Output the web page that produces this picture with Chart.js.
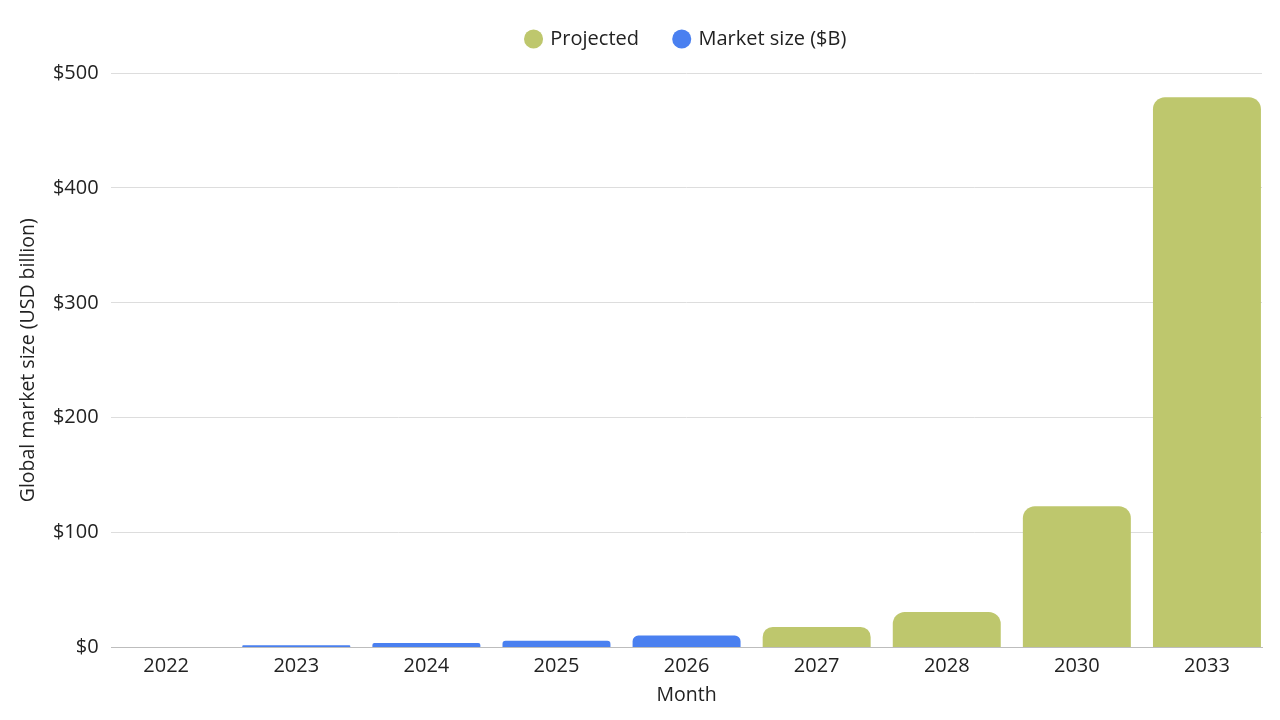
<!DOCTYPE html>
<html>
<head>
<meta charset="utf-8">
<script src="https://cdn.jsdelivr.net/npm/chart.js@4/dist/chart.umd.min.js"></script>
<style>
  html, body { margin: 0; padding: 0; background: #fff; }
  #wrap { width: 1280px; height: 720px; }
</style>
</head>
<body>
<div id="wrap"><canvas id="marketChart"></canvas></div>
<script>
// years on the x axis
var years = ['2022', '2023', '2024', '2025', '2026', '2027', '2028', '2030', '2033'];
// actual market size, USD billion
var marketSize = [0, 2, 4, 6, 10.5, null, null, null, null];
// projected market size, USD billion
var projected = [null, null, null, null, null, 18, 31, 123, 479];
var yTicks = [0, 100, 200, 300, 400, 500];

function toPoints(arr) {
  var pts = [];
  for (var i in arr) {
    if (arr[i] !== null) pts.push({ x: Number(i), y: arr[i] });
  }
  return pts;
}

var FONT = '"Open Sans", "Noto Sans", sans-serif';
var edge = 0.4231; // half a bar past the first / last year

// a bit more room under the legend
var legendGap = {
  id: 'legendGap',
  beforeInit: function(chart) {
    var fit = chart.legend.fit;
    chart.legend.fit = function() {
      fit.bind(chart.legend)();
      this.height += 14;
    };
  }
};

var ctx = document.getElementById('marketChart').getContext('2d');
new Chart(ctx, {
  type: 'bar',
  data: {
    datasets: [
      {
        label: 'Projected',
        data: toPoints(projected),
        backgroundColor: '#BEC76D',
        borderRadius: 12,
        borderSkipped: 'start',
        grouped: false
      },
      {
        label: 'Market size ($B)',
        data: toPoints(marketSize),
        backgroundColor: '#4A80F0',
        borderRadius: 12,
        borderSkipped: 'start',
        grouped: false
      }
    ]
  },
  plugins: [legendGap],
  options: {
    responsive: true,
    maintainAspectRatio: false,
    animation: false,
    categoryPercentage: 1,
    barPercentage: 0.83,
    layout: { padding: { top: -7, right: 18, left: 17, bottom: 9 } },
    plugins: {
      tooltip: { enabled: false },
      legend: {
        position: 'top',
        fullSize: false,
        labels: {
          usePointStyle: true,
          pointStyle: 'circle',
          boxWidth: 13.5,
          boxHeight: 13.5,
          padding: 36,
          color: '#222',
          font: { family: FONT, size: 20 }
        }
      }
    },
    scales: {
      x: {
        type: 'linear',
        offset: false,
        min: -edge,
        max: years.length - 1 + edge,
        grid: { display: false, drawTicks: false },
        border: { display: true, color: '#BDBDBD', width: 1 },
        ticks: {
          stepSize: 1,
          includeBounds: false,
          autoSkip: false,
          maxRotation: 0,
          padding: 7,
          color: '#222',
          font: { family: FONT, size: 20 },
          callback: function(v) {
            return Number.isInteger(v) ? years[v] : null;
          }
        },
        title: {
          display: true,
          text: 'Month',
          color: '#222',
          font: { family: FONT, size: 19.5 },
          padding: { top: -2, bottom: 4 }
        }
      },
      y: {
        min: yTicks[0],
        max: yTicks[yTicks.length - 1],
        grid: { color: '#DDDDDD', drawTicks: false },
        border: { display: false },
        ticks: {
          stepSize: 100,
          padding: 12.5,
          color: '#222',
          font: { family: FONT, size: 20 },
          callback: function(v) { return '$' + v; }
        },
        title: {
          display: true,
          text: 'Global market size (USD billion)',
          color: '#222',
          font: { family: FONT, size: 19.5 },
          padding: { top: 0, bottom: 0 }
        }
      }
    }
  }
});
</script>
</body>
</html>
